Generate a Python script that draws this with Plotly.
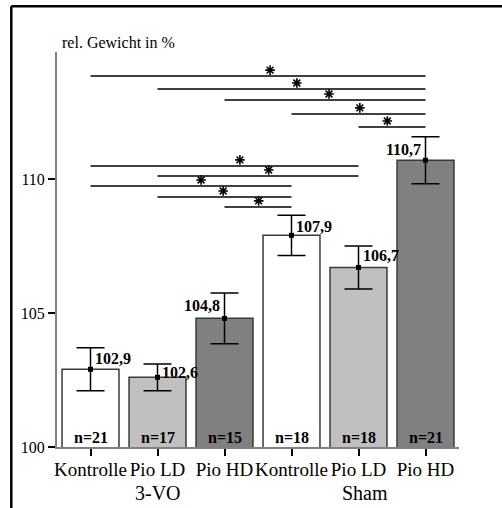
import plotly.graph_objects as go

# Relative body weight (%) per treatment group
categories = ["Kontrolle", "Pio LD", "Pio HD", "Kontrolle", "Pio LD", "Pio HD"]
groups = ["3-VO", "Sham"]
means = [102.9, 102.6, 104.8, 107.9, 106.7, 110.7]
errors = [0.8, 0.5, 0.95, 0.75, 0.8, 0.88]
n_counts = [21, 17, 15, 18, 18, 21]
bar_colors = ["#ffffff", "#c0c0c0", "#808080", "#ffffff", "#c0c0c0", "#808080"]

# Significance brackets: start bar, end bar, bracket level, star position
sig_start = [0, 1, 2, 3, 4, 0, 1, 0, 1, 2]
sig_end = [5, 5, 5, 5, 5, 4, 4, 3, 3, 3]
sig_level = [113.84, 113.36, 112.95, 112.43, 111.94, 110.49, 110.11, 109.74, 109.33, 108.96]
sig_star_x = [2.68, 3.08, 3.56, 4.02, 4.43, 2.23, 2.66, 1.65, 1.98, 2.51]

y_range = [100, 114.74]
W, H = 502, 508
M = dict(l=57, r=43, t=52, b=61)
px_per_unit = (H - M["t"] - M["b"]) / (y_range[1] - y_range[0])

SERIF = "Liberation Serif, Times New Roman, serif"
x = list(range(len(categories)))

fig = go.Figure()

fig.add_trace(go.Bar(
    x=x, y=means, width=0.85,
    marker=dict(color=bar_colors, line=dict(color="#3a3a3a", width=1.5)),
    error_y=dict(type="data", array=errors, visible=True,
                 color="black", thickness=1.5, width=14),
    showlegend=False, hoverinfo="skip",
))

# mean points
fig.add_trace(go.Scatter(
    x=x, y=means, mode="markers",
    marker=dict(symbol="square", size=5, color="black"),
    showlegend=False, hoverinfo="skip",
))

# significance brackets
for s, e, lvl in zip(sig_start, sig_end, sig_level):
    fig.add_trace(go.Scatter(
        x=[s, e], y=[lvl, lvl], mode="lines",
        line=dict(color="black", width=1.5),
        showlegend=False, hoverinfo="skip",
    ))
star_y = [l + 6 / px_per_unit for l in sig_level]
fig.add_trace(go.Scatter(
    x=sig_star_x, y=star_y, mode="markers",
    marker=dict(symbol="asterisk-open", size=8, color="black",
                line=dict(color="black", width=1.6)),
    showlegend=False, hoverinfo="skip",
))
fig.add_trace(go.Scatter(
    x=sig_star_x, y=star_y, mode="markers",
    marker=dict(symbol="square", size=3, color="black"),
    showlegend=False, hoverinfo="skip",
))

# value labels beside the error bars
label_side = ["right", "right", "left", "right", "right", "left"]
label_dy = [11, 5, 13, 9, 12, 11]
for i, (m, side, dy) in enumerate(zip(means, label_side, label_dy)):
    fig.add_annotation(
        x=i, y=m, xref="x", yref="y",
        text=f"{m:.1f}".replace(".", ","), showarrow=False,
        xanchor="left" if side == "right" else "right",
        xshift=2 if side == "right" else -3,
        yanchor="middle", yshift=dy,
        font=dict(family=SERIF, size=16, color="black", weight="bold"),
    )

# sample sizes at the bar bases
for i, n in enumerate(n_counts):
    fig.add_annotation(
        x=i, y=y_range[0], xref="x", yref="y",
        text=f"n={n}", showarrow=False,
        xanchor="center", yanchor="bottom", yshift=-1,
        font=dict(family=SERIF, size=16, color="black", weight="bold"),
    )

# group labels under the tick labels
for gx, g in zip([1, 4], groups):
    fig.add_annotation(
        x=gx, y=0, xref="x", yref="paper", text=g, showarrow=False,
        xanchor="center", yanchor="middle", yshift=-46,
        xshift=0 if g == groups[0] else 6,
        font=dict(family=SERIF, size=20, color="black"),
    )

# axis title
fig.add_annotation(
    x=0.0075, y=1.0228, xref="paper", yref="paper",
    text="rel. Gewicht in %", showarrow=False,
    xanchor="left", yanchor="middle",
    font=dict(family=SERIF, size=16, color="black"),
)

# outer frame (left and top edges)
pw = W - M["l"] - M["r"]
ph = H - M["t"] - M["b"]
fx = (11.3 - M["l"]) / pw
fy = (H - M["b"] - 6.2) / ph
fig.add_shape(type="line", xref="paper", yref="paper",
              x0=fx, x1=fx, y0=fy, y1=-0.3, line=dict(color="black", width=2.5))
fig.add_shape(type="line", xref="paper", yref="paper",
              x0=fx, x1=1.3, y0=fy, y1=fy, line=dict(color="black", width=2.5))

fig.update_layout(
    width=W, height=H, autosize=False, margin=M,
    paper_bgcolor="white", plot_bgcolor="white",
    bargap=0.15,
    xaxis=dict(
        range=[-0.5, 5.5], tickvals=x, ticktext=categories,
        tickangle=0, automargin=False, ticklabelstandoff=-3,
        ticks="outside", ticklen=7, tickwidth=2, tickcolor="black",
        showline=True, linecolor="#808080", linewidth=2,
        showgrid=False, zeroline=False,
        tickfont=dict(family=SERIF, size=19, color="black"),
    ),
    yaxis=dict(
        range=y_range, tickvals=[100, 105, 110], automargin=False,
        ticks="outside", ticklen=7, tickwidth=2, tickcolor="black",
        showline=True, linecolor="#808080", linewidth=2,
        showgrid=False, zeroline=False,
        tickfont=dict(family=SERIF, size=16, color="black"),
    ),
)

fig.write_html("out.html")
